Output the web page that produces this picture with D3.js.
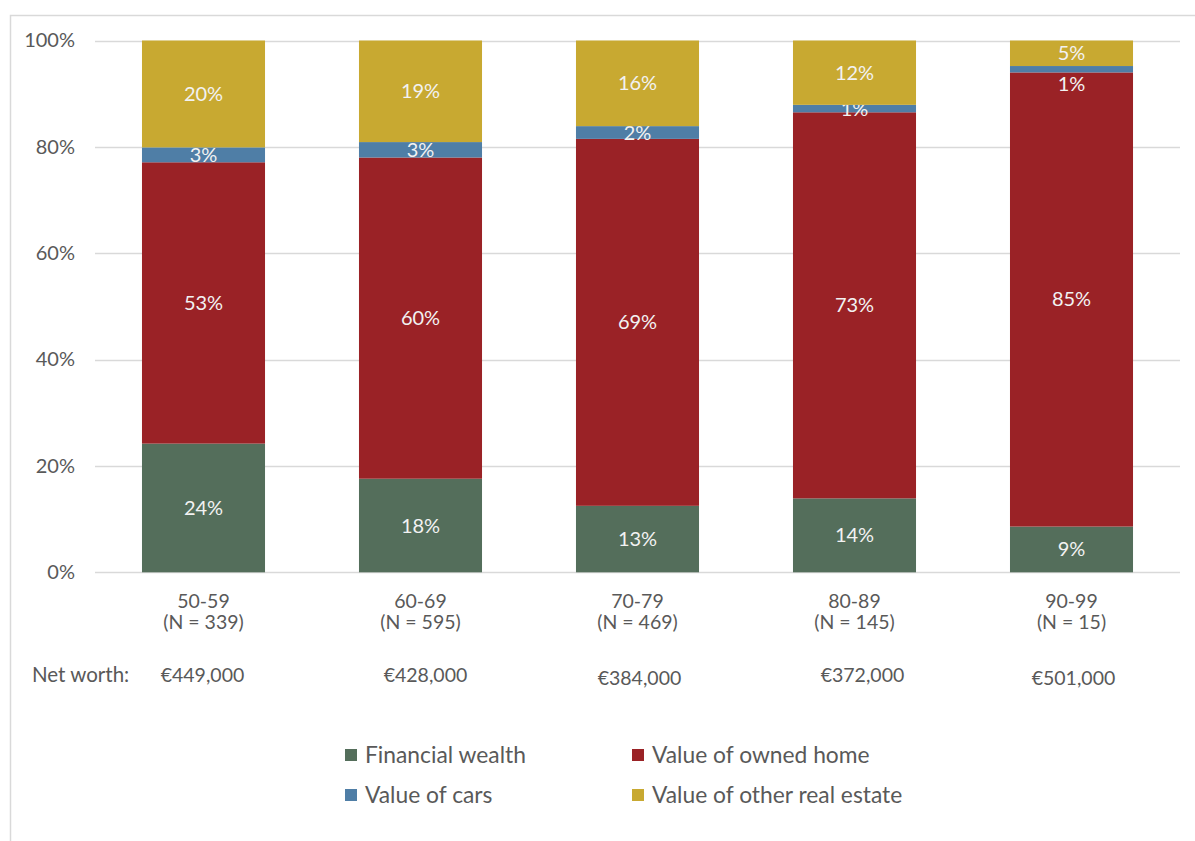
<!DOCTYPE html>
<html>
<head>
<meta charset="utf-8">
<script src="https://cdn.jsdelivr.net/npm/d3@7"></script>
<style>
  body { margin: 0; background: #fff; }
  text { font-family: Lato, "Open Sans", sans-serif; }
</style>
</head>
<body>
<div id="chart"></div>
<script>
// data (shares in %)
var ageGroups = ["50-59", "60-69", "70-79", "80-89", "90-99"];
var sampleSizes = ["(N = 339)", "(N = 595)", "(N = 469)", "(N = 145)", "(N = 15)"];
var netWorth = ["€449,000", "€428,000", "€384,000", "€372,000", "€501,000"];

var seriesNames = ["Financial wealth", "Value of owned home", "Value of cars", "Value of other real estate"];
var financial = [24.2, 17.6, 12.5, 13.9, 8.6];
var ownedHome = [52.9, 60.4, 69.0, 72.6, 85.4];
var cars      = [2.8, 2.9, 2.4, 1.4, 1.2];
var otherRE   = [20.1, 19.1, 16.1, 12.1, 4.8];
var yTicks = [0, 20, 40, 60, 80, 100];

var colors = ["#546e5b", "#9a2226", "#4f7ea6", "#c8a931"];

var W = 1195, H = 841;
var margin = {left: 95, right: 15, top: 40.5, bottom: 269};

var svg = d3.select("#chart").append("svg")
    .attr("width", W)
    .attr("height", H);

// chart frame (only top and left edges are visible in the picture)
svg.append("path")
    .attr("d", "M10.5,841 L10.5,15.5 L1195,15.5")
    .attr("fill", "none")
    .attr("stroke", "#d9d9d9")
    .attr("stroke-width", 1.5);

var x = d3.scaleBand()
    .domain(ageGroups)
    .range([margin.left, 1180])
    .paddingInner(0.433)
    .paddingOuter(0.2165);

var y = d3.scaleLinear()
    .domain([0, 100])
    .range([572.3, margin.top]);

// gridlines
svg.append("g").selectAll("line")
    .data(yTicks)
    .enter()
    .append("line")
    .attr("x1", margin.left)
    .attr("x2", 1180)
    .attr("y1", function(d) { return Math.round(y(d)) + 0.5; })
    .attr("y2", function(d) { return Math.round(y(d)) + 0.5; })
    .attr("stroke", "#d9d9d9")
    .attr("stroke-width", 1.3);

// y axis labels
var yAxis = d3.axisLeft(y)
    .tickValues(yTicks)
    .tickSize(0)
    .tickPadding(20)
    .tickFormat(function(d) { return d + "%"; });

var gy = svg.append("g")
    .attr("transform", "translate(" + margin.left + ",0)")
    .call(yAxis);
gy.select(".domain").remove();
gy.selectAll("text")
    .attr("fill", "#595959")
    .style("font-size", "20px")
    .style("font-family", "Lato, sans-serif");

// stack the series
var table = ageGroups.map(function(g, i) {
    return {group: g, s0: financial[i], s1: ownedHome[i], s2: cars[i], s3: otherRE[i]};
});
var keys = ["s0", "s1", "s2", "s3"];
var stacked = d3.stack().keys(keys)(table);

var layers = svg.append("g").selectAll("g")
    .data(stacked)
    .enter()
    .append("g")
    .attr("fill", function(d, i) { return colors[i]; });

layers.selectAll("rect")
    .data(function(d) { return d; })
    .enter()
    .append("rect")
    .attr("x", function(d) { return x(d.data.group); })
    .attr("width", x.bandwidth())
    .attr("y", function(d) { return y(d[1]); })
    .attr("height", function(d) { return y(d[0]) - y(d[1]); });

// data labels
layers.selectAll("text")
    .data(function(d) { return d; })
    .enter()
    .append("text")
    .attr("x", function(d) { return x(d.data.group) + x.bandwidth() / 2; })
    .attr("y", function(d, i) {
        var mid = (y(d[0]) + y(d[1])) / 2;
        // the cars label of the last bar sits below its thin band
        if (this.parentNode.__data__.key === "s2" && i === 4) mid += 15;
        return mid;
    })
    .attr("dy", "0.35em")
    .attr("text-anchor", "middle")
    .attr("fill", "#f2f2f2")
    .style("font-size", "20px")
    .text(function(d) { return Math.round(d[1] - d[0]) + "%"; });

// category labels
var cats = svg.append("g").selectAll("text")
    .data(ageGroups)
    .enter()
    .append("text")
    .attr("text-anchor", "middle")
    .attr("fill", "#595959")
    .style("font-size", "19.5px")
    .attr("x", function(d) { return x(d) + x.bandwidth() / 2; })
    .attr("y", 608);
cats.append("tspan")
    .text(function(d) { return d; });
cats.append("tspan")
    .attr("x", function(d) { return x(d) + x.bandwidth() / 2; })
    .attr("dy", 21)
    .text(function(d, i) { return sampleSizes[i]; });

// net worth row
svg.append("text")
    .attr("x", 32)
    .attr("y", 682)
    .attr("fill", "#595959")
    .style("font-size", "20.5px")
    .text("Net worth:");

svg.append("g").selectAll("text")
    .data(netWorth)
    .enter()
    .append("text")
    .attr("text-anchor", "middle")
    .attr("fill", "#595959")
    .style("font-size", "19.5px")
    .attr("x", function(d, i) { return x(ageGroups[i]) + x.bandwidth() / 2 + [-1, 5, 2, 8, 2][i]; })
    .attr("y", function(d, i) { return [682, 682, 685, 682, 685][i]; })
    .text(function(d) { return d; });

// legend
var legend = svg.append("g").selectAll("g")
    .data(seriesNames)
    .enter()
    .append("g")
    .attr("transform", function(d, i) {
        var lx = (i % 2 === 0) ? 345 : 632;
        var ly = (i < 2) ? 755 : 795;
        return "translate(" + lx + "," + ly + ")";
    });
legend.append("rect")
    .attr("x", 0)
    .attr("y", -6)
    .attr("width", 12)
    .attr("height", 12)
    .attr("fill", function(d, i) { return colors[i]; });
legend.append("text")
    .attr("x", 20)
    .attr("dy", "0.35em")
    .attr("fill", "#595959")
    .style("font-size", "22.8px")
    .text(function(d) { return d; });
</script>
</body>
</html>
